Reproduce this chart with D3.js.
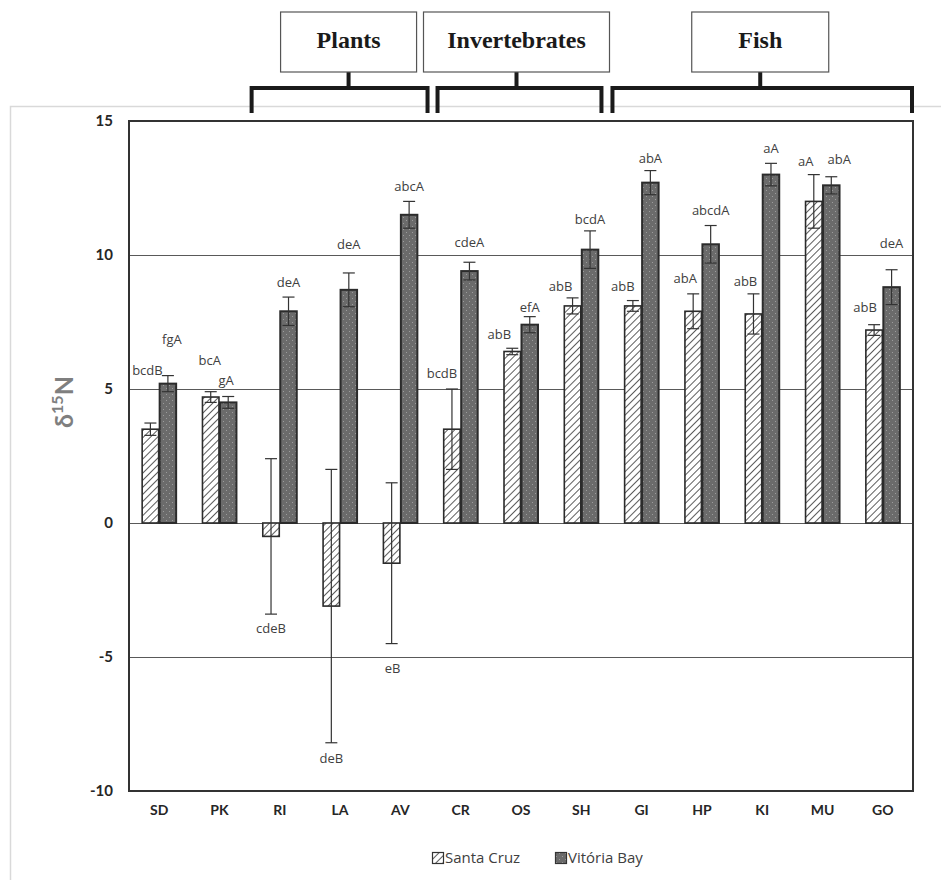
<!DOCTYPE html>
<html>
<head>
<meta charset="utf-8">
<script src="https://cdn.jsdelivr.net/npm/d3@7"></script>
<style>
  html, body { margin: 0; padding: 0; background: #fff; }
  svg { display: block; }
</style>
</head>
<body>
<svg id="chart" width="941" height="880"></svg>
<script>
// ---------------- DATA ----------------
const categories = ["SD","PK","RI","LA","AV","CR","OS","SH","GI","HP","KI","MU","GO"];
const seriesNames = ["Santa Cruz","Vitória Bay"];
const santaCruz    = [3.5, 4.7, -0.5, -3.1, -1.5, 3.5, 6.4, 8.1, 8.1, 7.9, 7.8, 12.0, 7.2];
const santaCruzErr = [0.23, 0.2, 2.9, 5.1, 3.0, 1.5, 0.12, 0.3, 0.2, 0.65, 0.75, 1.0, 0.2];
const vitoriaBay    = [5.2, 4.5, 7.9, 8.7, 11.5, 9.4, 7.4, 10.2, 12.7, 10.4, 13.0, 12.6, 8.8];
const vitoriaBayErr = [0.3, 0.22, 0.53, 0.63, 0.5, 0.33, 0.3, 0.7, 0.45, 0.7, 0.42, 0.32, 0.65];
const santaCruzLetters  = ["bcdB","bcA","cdeB","deB","eB","bcdB","abB","abB","abB","abA","abB","aA","abB"];
const vitoriaBayLetters = ["fgA","gA","deA","deA","abcA","cdeA","efA","bcdA","abA","abcdA","aA","abA","deA"];
// where each letter annotation sits, in δ15N units
const santaCruzLetterAt  = [5.69, 6.06, -3.93, -8.80, -5.41, 5.57, 7.05, 8.81, 8.81, 9.12, 9.01, 13.49, 8.04];
const vitoriaBayLetterAt = [6.84, 5.31, 8.97, 10.40, 12.56, 10.45, 8.04, 11.34, 13.62, 11.68, 13.97, 13.58, 10.42];
const yTicks = [-10, -5, 0, 5, 10, 15];
const gridValues = [-5, 0, 5, 10];
const groupNames = ["Plants", "Invertebrates", "Fish"];
const groupFirst = ["RI", "CR", "GI"];
const groupLast  = ["AV", "SH", "GO"];

// ---------------- LAYOUT ----------------
const plot = { left: 129, right: 913, top: 121, bottom: 791 };
const letterDx = {
  "Santa Cruz": [-3,-1,0,0,1,-10,-13,-12,-10,-8,-8,-8,-9],
  "Vitória Bay": [4,-2,0,0,0,0,0,0,0,0,0,8,0]
};
const groupBox = [
  { w: 136, dx: 9, legL: 2, legR: -3 },
  { w: 186, dx: -3, legL: 7, legR: -10 },
  { w: 137, dx: -2, legL: 1, legR: -1 }
];

const svg = d3.select("#chart");
const defs = svg.append("defs");

// hatch pattern
const hatch = defs.append("pattern")
  .attr("id", "hatch").attr("patternUnits", "userSpaceOnUse")
  .attr("width", 5).attr("height", 5)
  .attr("patternTransform", "rotate(45)");
hatch.append("rect").attr("width", 5).attr("height", 5).attr("fill", "#fff");
hatch.append("line").attr("x1", 0).attr("y1", 0).attr("x2", 0).attr("y2", 5)
  .attr("stroke", "#333").attr("stroke-width", 1.6);

// dotted dark pattern
const dots = defs.append("pattern")
  .attr("id", "dots").attr("patternUnits", "userSpaceOnUse")
  .attr("width", 6).attr("height", 6);
dots.append("rect").attr("width", 6).attr("height", 6).attr("fill", "#6b6b6b");
dots.append("rect").attr("x", 1).attr("y", 1).attr("width", 1).attr("height", 1).attr("fill", "#9c9c9c");
dots.append("rect").attr("x", 4).attr("y", 4).attr("width", 1).attr("height", 1).attr("fill", "#9c9c9c");

// outer light frame
svg.append("rect").attr("x", 10.5).attr("y", 106.5).attr("width", 960).attr("height", 800)
  .attr("fill", "none").attr("stroke", "#d9d9d9").attr("stroke-width", 1.5);

// scales
const x = d3.scaleBand().domain(categories).range([plot.left, plot.right])
  .paddingInner(0.42).paddingOuter(0.21);
const xs = d3.scaleBand().domain(seriesNames).range([0, x.bandwidth()]);
const y = d3.scaleLinear().domain([-10, 15]).range([plot.bottom, plot.top]);

// gridlines
svg.append("g").selectAll("line").data(gridValues).join("line")
  .attr("x1", plot.left).attr("x2", plot.right)
  .attr("y1", d => Math.round(y(d)) + 0.5).attr("y2", d => Math.round(y(d)) + 0.5)
  .attr("stroke", "#595959").attr("stroke-width", 1);

// y axis labels
const yAxis = d3.axisLeft(y).tickValues(yTicks).tickSize(0).tickPadding(16).tickFormat(d => String(d));
const gy = svg.append("g").attr("transform", `translate(${plot.left},0)`).call(yAxis);
gy.select(".domain").remove();
gy.selectAll("text").attr("font-family", "Lato, 'Open Sans', sans-serif")
  .attr("font-weight", "bold").attr("font-size", 15).attr("fill", "#262626");

// x axis labels
const xAxis = d3.axisBottom(x).tickSize(0).tickPadding(14);
const gx = svg.append("g").attr("transform", `translate(0,${plot.bottom})`).call(xAxis);
gx.select(".domain").remove();
gx.selectAll("text").attr("font-family", "Lato, 'Open Sans', sans-serif")
  .attr("font-weight", "bold").attr("font-size", 14).attr("fill", "#262626");

// series data
const series = [
  { name: "Santa Cruz", vals: santaCruz, err: santaCruzErr, letters: santaCruzLetters, at: santaCruzLetterAt, fill: "url(#hatch)" },
  { name: "Vitória Bay", vals: vitoriaBay, err: vitoriaBayErr, letters: vitoriaBayLetters, at: vitoriaBayLetterAt, fill: "url(#dots)" }
];

const barData = [];
series.forEach(s => categories.forEach((c, i) => barData.push({
  cat: c, i, series: s.name, v: s.vals[i], e: s.err[i], letter: s.letters[i], at: s.at[i], fill: s.fill
})));

const bx = d => x(d.cat) + xs(d.series);
const bw = xs.bandwidth();

// bars
svg.append("g").selectAll("rect").data(barData).join("rect")
  .attr("x", d => bx(d) + 0.5)
  .attr("y", d => y(Math.max(0, d.v)))
  .attr("width", bw - 1)
  .attr("height", d => Math.abs(y(d.v) - y(0)))
  .attr("fill", d => d.fill)
  .attr("stroke", "#2b2b2b").attr("stroke-width", d => d.series === "Vitória Bay" ? 2 : 1.6);

// error bars
const eg = svg.append("g").attr("stroke", "#333").attr("stroke-width", 1.2);
barData.forEach(d => {
  const cx = bx(d) + bw / 2;
  const cap = 6;
  eg.append("line").attr("x1", cx).attr("x2", cx).attr("y1", y(d.v + d.e)).attr("y2", y(d.v - d.e));
  eg.append("line").attr("x1", cx - cap).attr("x2", cx + cap).attr("y1", y(d.v + d.e)).attr("y2", y(d.v + d.e));
  eg.append("line").attr("x1", cx - cap).attr("x2", cx + cap).attr("y1", y(d.v - d.e)).attr("y2", y(d.v - d.e));
});

// letters
svg.append("g").selectAll("text").data(barData).join("text")
  .attr("x", d => bx(d) + bw / 2 + letterDx[d.series][d.i])
  .attr("y", d => y(d.at))
  .attr("dy", "0.35em")
  .attr("text-anchor", "middle")
  .attr("font-family", "'Open Sans', Lato, sans-serif")
  .attr("font-size", 13).attr("fill", "#404040")
  .text(d => d.letter);

// plot frame
svg.append("rect").attr("x", plot.left).attr("y", plot.top)
  .attr("width", plot.right - plot.left).attr("height", plot.bottom - plot.top)
  .attr("fill", "none").attr("stroke", "#333").attr("stroke-width", 2);

// y axis title
const yt = svg.append("text")
  .attr("transform", `translate(73,402) rotate(-90)`)
  .attr("text-anchor", "middle")
  .attr("font-family", "Lato, 'Open Sans', sans-serif")
  .attr("font-weight", "bold").attr("font-size", 25).attr("fill", "#7f7f7f");
yt.append("tspan").text("δ");
yt.append("tspan").attr("font-size", 16).attr("dy", -10).text("15");
yt.append("tspan").attr("dy", 10).text("N");

// top group brackets
const bg = svg.append("g");
groupNames.forEach((g, k) => {
  const lay = groupBox[k];
  const x0 = x(groupFirst[k]) - x.step() * x.paddingInner() / 2 + lay.legL;
  const x1 = x(groupLast[k]) + x.bandwidth() + x.step() * x.paddingInner() / 2 + lay.legR;
  const mid = (x0 + x1) / 2 + lay.dx;
  const hy = 88, legB = 113, boxTop = 12, boxH = 60;
  bg.append("path")
    .attr("d", `M${x0},${legB} V${hy} H${x1} V${legB} M${mid},${hy} V${boxTop + boxH}`)
    .attr("fill", "none").attr("stroke", "#1a1a1a").attr("stroke-width", 4);
  bg.append("rect").attr("x", mid - lay.w / 2).attr("y", boxTop).attr("width", lay.w).attr("height", boxH)
    .attr("fill", "#fff").attr("stroke", "#555").attr("stroke-width", 1.2);
  bg.append("text").attr("x", mid).attr("y", boxTop + boxH / 2 - 2).attr("dy", "0.35em")
    .attr("text-anchor", "middle")
    .attr("font-family", "'Liberation Serif', 'Times New Roman', serif")
    .attr("font-weight", "bold").attr("font-size", 24).attr("fill", "#1a1a1a")
    .text(g);
});

// legend
const leg = svg.append("g").attr("transform", "translate(432,852)");
const legItems = [
  { name: seriesNames[0], fill: "url(#hatch)", x: 0 },
  { name: seriesNames[1], fill: "url(#dots)", x: 123 }
];
legItems.forEach(it => {
  leg.append("rect").attr("x", it.x + 0.5).attr("y", 0.5).attr("width", 11).attr("height", 11)
    .attr("fill", it.fill).attr("stroke", "#333").attr("stroke-width", 1.2);
  leg.append("text").attr("x", it.x + 13).attr("y", 6).attr("dy", "0.35em")
    .attr("font-family", "'Open Sans', Lato, sans-serif")
    .attr("font-size", 15).attr("fill", "#404040").text(it.name);
});
</script>
</body>
</html>
